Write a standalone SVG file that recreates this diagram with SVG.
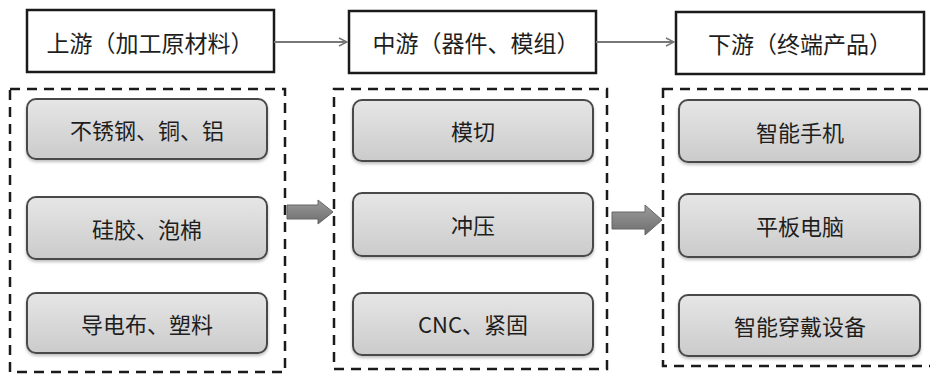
<svg xmlns="http://www.w3.org/2000/svg" width="930" height="377" viewBox="0 0 930 377">
<defs>
<linearGradient id="g" x1="0" y1="0" x2="0" y2="1">
<stop offset="0" stop-color="#e6e6e6"/>
<stop offset="1" stop-color="#cbcbcb"/>
</linearGradient>
<linearGradient id="ag" x1="0" y1="0" x2="0" y2="1">
<stop offset="0" stop-color="#9a9a9a"/>
<stop offset="1" stop-color="#6e6e6e"/>
</linearGradient>
<filter id="sh" x="-5%" y="-10%" width="110%" height="130%">
<feDropShadow dx="0" dy="2" stdDeviation="1.5" flood-color="#000" flood-opacity="0.25"/>
</filter>
<marker id="open" viewBox="0 0 10 10" refX="9" refY="5" markerWidth="10" markerHeight="10" markerUnits="userSpaceOnUse" orient="auto">
<path d="M1,1 L9,5 L1,9" fill="none" stroke="#777" stroke-width="1.5"/>
</marker>
</defs>
<style>
text{font-family:"Noto Sans CJK SC","Liberation Sans",sans-serif;fill:#1e1e1e;text-anchor:middle;dominant-baseline:central}
.hd{fill:#fff;stroke:#1a1a1a;stroke-width:2.5}
.hdt{font-size:23px}
.dash{fill:none;stroke:#1a1a1a;stroke-width:2.5;stroke-dasharray:10 7}
.it{fill:url(#g);stroke:#4a4a4a;stroke-width:2;filter:url(#sh)}
.itt{font-size:22px}
.ln{stroke:#777;stroke-width:2;fill:none}
.blk{fill:url(#ag);stroke:#666;stroke-width:1}
</style>
<rect width="930" height="377" fill="#fff"/>

<g id="up-header"><rect class="hd" x="27" y="10" width="247" height="62"/><text class="hdt" x="150" y="42">上游（加工原材料）</text></g>
<g id="mid-header"><rect class="hd" x="349" y="11" width="247" height="62"/><text class="hdt" x="476" y="42">中游（器件、模组）</text></g>
<g id="down-header"><rect class="hd" x="676" y="12" width="248" height="62"/><text class="hdt" x="800" y="43">下游（终端产品）</text></g>

<g id="up-group"><rect class="dash" x="10" y="89" width="275" height="283"/></g>
<g id="mid-group"><rect class="dash" x="334" y="89" width="273" height="280"/></g>
<g id="down-group"><rect class="dash" x="663" y="89" width="280" height="277"/></g>

<g id="u1"><rect class="it" x="27" y="99" width="240" height="60" rx="9"/><text class="itt" x="147" y="129">不锈钢、铜、铝</text></g>
<g id="u2"><rect class="it" x="27" y="197" width="240" height="62" rx="9"/><text class="itt" x="147" y="228">硅胶、泡棉</text></g>
<g id="u3"><rect class="it" x="27" y="293" width="240" height="60" rx="9"/><text class="itt" x="147" y="323">导电布、塑料</text></g>

<g id="m1"><rect class="it" x="353" y="100" width="240" height="61" rx="9"/><text class="itt" x="473" y="130">模切</text></g>
<g id="m2"><rect class="it" x="353" y="193" width="240" height="63" rx="9"/><text class="itt" x="473" y="224">冲压</text></g>
<g id="m3"><rect class="it" x="353" y="293" width="240" height="62" rx="9"/><text class="itt" x="473" y="323">CNC、紧固</text></g>

<g id="d1"><rect class="it" x="679" y="100" width="241" height="62" rx="9"/><text class="itt" x="800" y="131">智能手机</text></g>
<g id="d2"><rect class="it" x="679" y="194" width="241" height="63" rx="9"/><text class="itt" x="800" y="225">平板电脑</text></g>
<g id="d3"><rect class="it" x="679" y="295" width="241" height="61" rx="9"/><text class="itt" x="800" y="325">智能穿戴设备</text></g>

<g id="connectors">
<line class="ln" x1="274" y1="42" x2="347" y2="42" marker-end="url(#open)"/>
<line class="ln" x1="596" y1="42" x2="674" y2="42" marker-end="url(#open)"/>
<path class="blk" d="M287,205 L318,205 L318,200 L333,212 L318,224 L318,219 L287,219 Z"/>
<path class="blk" d="M612,212 L645,212 L645,205 L662,220 L645,235 L645,229 L612,229 Z"/>
</g>
</svg>
